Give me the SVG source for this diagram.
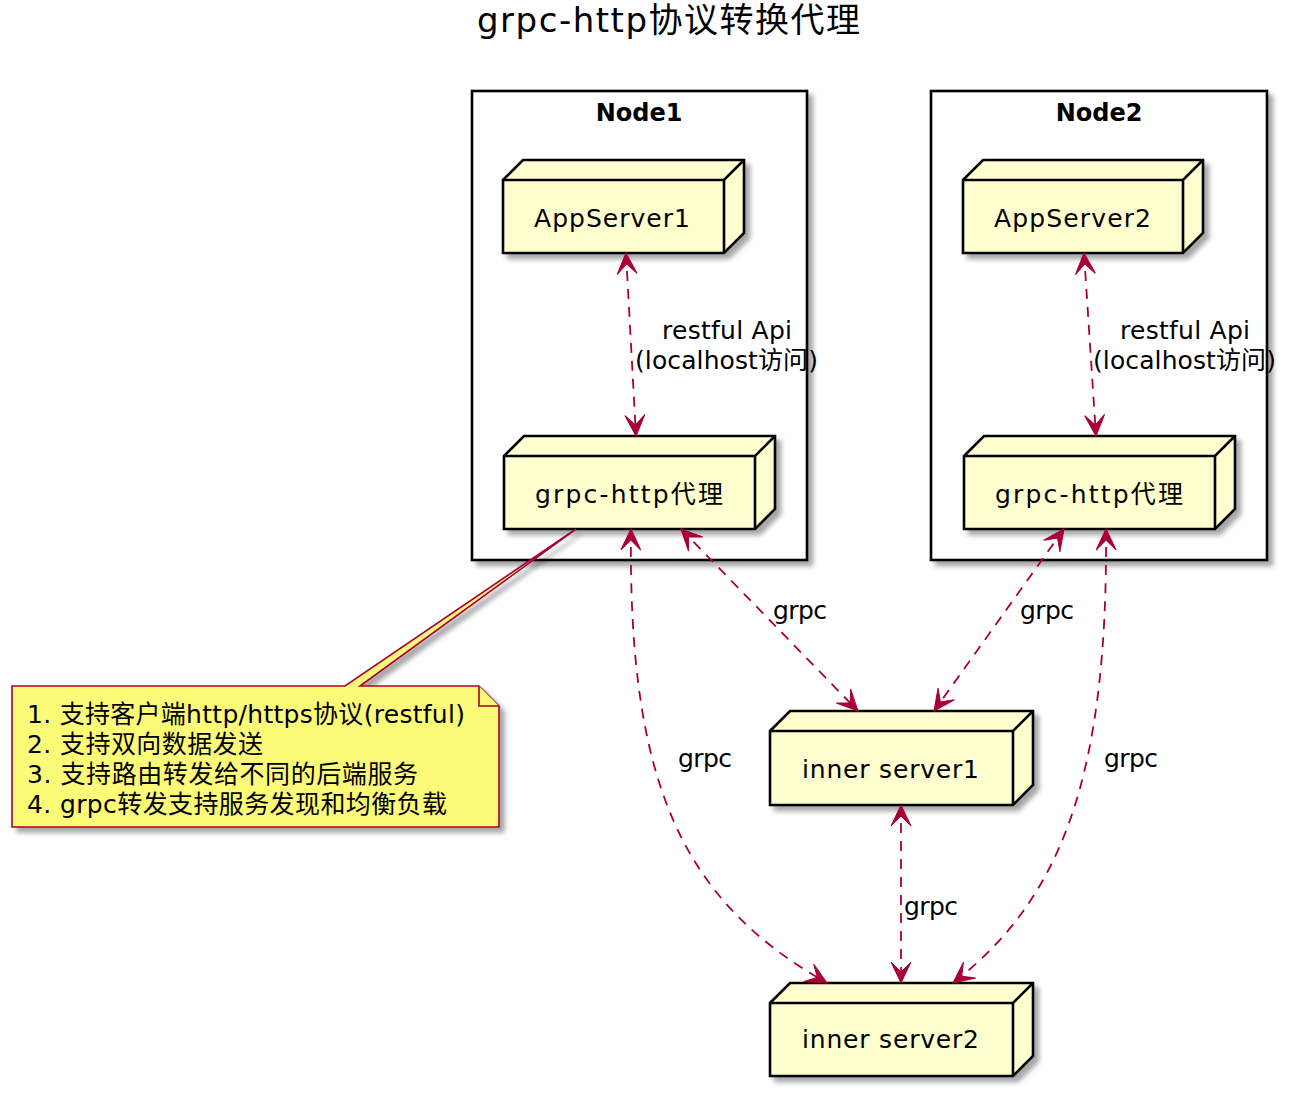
<svg xmlns="http://www.w3.org/2000/svg" width="1299" height="1097" viewBox="0 0 1299 1097">
<style>
text{font-family:"DejaVu Sans","Noto Sans CJK SC",sans-serif;fill:#000}
.t{font-size:34px}
.lbl{font-size:25px}
.cl{font-size:24px;font-weight:bold}
.cluster{fill:#fff;stroke:#000;stroke-width:2.6}
.nf{fill:#FEFECE;stroke:#000;stroke-width:2.6;stroke-linejoin:miter}
.nl{fill:none;stroke:#000;stroke-width:2.6}
.e{fill:none;stroke:#A80036;stroke-width:1.8;stroke-dasharray:10,8;marker-start:url(#ah);marker-end:url(#ah)}
.note{fill:#FBFB77;stroke:#A80036;stroke-width:1.6}
</style>
<defs>
<filter id="sh" x="-10%" y="-10%" width="130%" height="130%">
<feGaussianBlur in="SourceAlpha" stdDeviation="2.5"/>
<feOffset dx="5" dy="5"/>
<feComponentTransfer><feFuncA type="linear" slope="0.35"/></feComponentTransfer>
<feMerge><feMergeNode/><feMergeNode in="SourceGraphic"/></feMerge>
</filter>
<marker id="ah" markerUnits="userSpaceOnUse" viewBox="-22 -11 24 22" refX="0" refY="0" markerWidth="24" markerHeight="22" orient="auto-start-reverse">
<path d="M0,0 L-21,-10 L-11,0 L-21,10 Z" fill="#A80036" stroke="#A80036" stroke-width="1"/>
</marker>
</defs>
<rect width="1299" height="1097" fill="#fff"/>
<text class="t" x="477" y="32" textLength="383">grpc-http协议转换代理</text>

<g id="cluster-node1">
<rect class="cluster" x="472" y="91" width="335" height="469" filter="url(#sh)"/>
<text class="cl" x="639" y="121" text-anchor="middle">Node1</text>
</g>
<g id="cluster-node2">
<rect class="cluster" x="931" y="91" width="336" height="469" filter="url(#sh)"/>
<text class="cl" x="1099" y="121" text-anchor="middle">Node2</text>
</g>

<g id="appserver1">
<path class="nf" filter="url(#sh)" d="M503,180 L523,160 L744,160 L744,233 L724,253 L503,253 Z"/>
<path class="nl" d="M503,180 L724,180 L744,160 M724,180 L724,253"/>
<text class="lbl" x="534" y="227" textLength="156">AppServer1</text>
</g>
<g id="appserver2">
<path class="nf" filter="url(#sh)" d="M963,180 L983,160 L1203,160 L1203,233 L1183,253 L963,253 Z"/>
<path class="nl" d="M963,180 L1183,180 L1203,160 M1183,180 L1183,253"/>
<text class="lbl" x="994" y="227" textLength="157">AppServer2</text>
</g>
<g id="proxy1">
<path class="nf" filter="url(#sh)" d="M504,456 L524,436 L775,436 L775,509 L755,529 L504,529 Z"/>
<path class="nl" d="M504,456 L755,456 L775,436 M755,456 L755,529"/>
<text class="lbl" x="535" y="503" textLength="188">grpc-http代理</text>
</g>
<g id="proxy2">
<path class="nf" filter="url(#sh)" d="M964,456 L984,436 L1235,436 L1235,509 L1215,529 L964,529 Z"/>
<path class="nl" d="M964,456 L1215,456 L1235,436 M1215,456 L1215,529"/>
<text class="lbl" x="995" y="503" textLength="188">grpc-http代理</text>
</g>
<g id="inner1">
<path class="nf" filter="url(#sh)" d="M770,731 L790,711 L1033,711 L1033,785 L1013,805 L770,805 Z"/>
<path class="nl" d="M770,731 L1013,731 L1033,711 M1013,731 L1013,805"/>
<text class="lbl" x="802" y="778" textLength="177">inner server1</text>
</g>
<g id="inner2">
<path class="nf" filter="url(#sh)" d="M770,1003 L790,983 L1033,983 L1033,1056 L1013,1076 L770,1076 Z"/>
<path class="nl" d="M770,1003 L1013,1003 L1033,983 M1013,1003 L1013,1076"/>
<text class="lbl" x="802" y="1048" textLength="177">inner server2</text>
</g>

<g id="connectors">
<path class="e" d="M626,253 L636,436"/>
<path class="e" d="M1084,253 L1096,436"/>
<path class="e" d="M681,529 L858,711"/>
<path class="e" d="M1064,529 L934,711"/>
<path class="e" d="M631,529 C628,780 680,900 827,983"/>
<path class="e" d="M1106,529 C1108,780 1060,900 953,983"/>
<path class="e" d="M901,805 L901,983"/>
<text class="lbl" x="662" y="339" textLength="130">restful Api</text>
<text class="lbl" x="635" y="369" textLength="183">(localhost访问)</text>
<text class="lbl" x="1120" y="339" textLength="130">restful Api</text>
<text class="lbl" x="1093" y="369" textLength="183">(localhost访问)</text>
<text class="lbl" x="773" y="619" textLength="54">grpc</text>
<text class="lbl" x="1020" y="619" textLength="54">grpc</text>
<text class="lbl" x="678" y="767" textLength="54">grpc</text>
<text class="lbl" x="1104" y="767" textLength="54">grpc</text>
<text class="lbl" x="904" y="915" textLength="54">grpc</text>
</g>

<g id="note">
<path class="note" filter="url(#sh)" d="M12,686 L345,686 L576,529 L360,686 L479,686 L499,706 L499,827 L12,827 Z"/>
<path class="note" d="M479,686 L479,706 L499,706"/>
<text class="lbl" x="27" y="723" textLength="438">1. 支持客户端http/https协议(restful)</text>
<text class="lbl" x="27" y="753" textLength="236">2. 支持双向数据发送</text>
<text class="lbl" x="27" y="783" textLength="391">3. 支持路由转发给不同的后端服务</text>
<text class="lbl" x="27" y="813" textLength="420">4. grpc转发支持服务发现和均衡负载</text>
</g>
</svg>
